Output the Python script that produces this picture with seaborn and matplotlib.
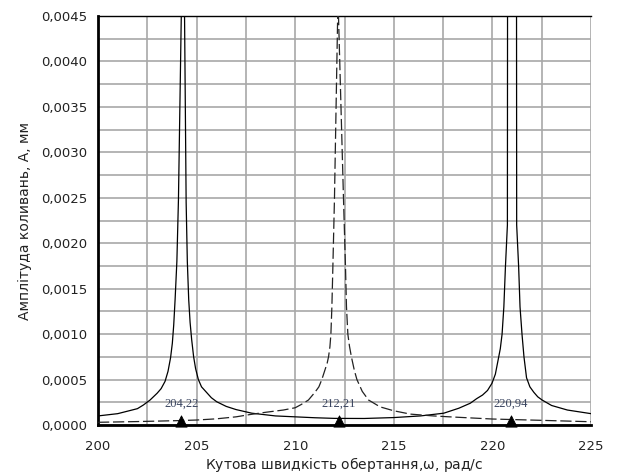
import numpy as np
import pandas as pd
import seaborn as sns
import matplotlib
matplotlib.use("Agg")
import matplotlib.pyplot as plt
from matplotlib.ticker import MultipleLocator, FuncFormatter

# Solid curve (two resonances)
omega_solid = [200.0, 201.0, 202.0, 202.3, 202.64, 203.0, 203.2, 203.4, 203.55, 203.68,
               203.77, 203.84, 203.91, 204.0, 204.08, 204.33, 204.47, 204.53, 204.6,
               204.67, 204.75, 204.85, 204.95, 205.09, 205.25, 205.5, 205.75, 206.02,
               206.5, 207.0, 207.8, 209.0, 210.0, 211.0, 212.0, 213.5, 215.0, 216.35,
               217.53, 218.3, 218.88, 219.2, 219.5, 219.75, 219.98, 220.15, 220.32,
               220.4, 220.49, 220.58, 220.66, 220.76, 220.99, 221.23, 221.33, 221.4,
               221.5, 221.6, 221.73, 221.9, 222.1, 222.3, 222.52, 223.0, 223.8, 225.0]
amp_solid = [0.000100, 0.000125, 0.000180, 0.000220, 0.000275, 0.000350, 0.000400,
             0.000480, 0.000590, 0.000740, 0.000900, 0.001100, 0.001380, 0.001800,
             0.002480, 0.006000, 0.002450, 0.001800, 0.001380, 0.001130, 0.000940,
             0.000750, 0.000620, 0.000500, 0.000420, 0.000360, 0.000300, 0.000256,
             0.000205, 0.000170, 0.000130, 0.000100, 0.000090, 0.000080, 0.000073,
             0.000072, 0.000082, 0.000100, 0.000130, 0.000185, 0.000240, 0.000290,
             0.000330, 0.000380, 0.000460, 0.000560, 0.000750, 0.000840, 0.001000,
             0.001300, 0.001740, 0.002200, 0.080000, 0.002200, 0.001740, 0.001300,
             0.001000, 0.000750, 0.000520, 0.000420, 0.000360, 0.000310, 0.000275,
             0.000215, 0.000165, 0.000125]

# Dashed curve (middle resonance)
omega_dashed = [200.0, 202.0, 204.0, 205.0, 206.0, 207.0, 207.7, 208.5, 209.4,
                210.0, 210.3, 210.67, 211.0, 211.2, 211.35, 211.5, 211.62, 211.69,
                211.76, 211.81, 211.86, 211.91, 211.99, 212.17, 212.45, 212.55,
                212.6, 212.67, 212.75, 212.85, 213.0, 213.13, 213.4, 213.72, 214.3,
                214.99, 215.84, 217.0, 218.0, 220.0, 222.4, 225.0]
amp_dashed = [0.000030, 0.000038, 0.000048, 0.000055, 0.000068, 0.000090, 0.000115,
              0.000140, 0.000165, 0.000190, 0.000225, 0.000275, 0.000360, 0.000420,
              0.000500, 0.000600, 0.000680, 0.000750, 0.000860, 0.001000, 0.001300,
              0.001740, 0.002480, 0.004700, 0.002480, 0.001740, 0.001300, 0.001000,
              0.000870, 0.000750, 0.000600, 0.000500, 0.000370, 0.000275, 0.000200,
              0.000157, 0.000120, 0.000100, 0.000088, 0.000066, 0.000052, 0.000036]

# resonance markers
res_omega = [204.22, 212.21, 220.94]
res_labels = ["204,22", "212,21", "220,94"]

sns.set_style("white")
plt.rcParams['font.family'] = ['DejaVu Sans']

fig = plt.figure(figsize=(6.19, 4.76), dpi=100)
ax = fig.add_axes([0.1583, 0.1071, 0.7965, 0.8593])

df_s = pd.DataFrame({"w": omega_solid, "a": amp_solid})
df_d = pd.DataFrame({"w": omega_dashed, "a": amp_dashed})
sns.lineplot(data=df_s, x="w", y="a", ax=ax, color="black", linewidth=0.9,
             estimator=None, sort=False, zorder=3)
sns.lineplot(data=df_d, x="w", y="a", ax=ax, color="#222222", linewidth=0.9,
             estimator=None, sort=False, zorder=3)
ax.lines[-1].set_dashes((9, 3))

df_m = pd.DataFrame({"w": res_omega, "a": [0.00004] * 3})
sns.scatterplot(data=df_m, x="w", y="a", ax=ax, marker="^", color="black",
                s=65, edgecolor="black", zorder=5, clip_on=False)
for w, lab in zip(res_omega, res_labels):
    ax.text(w, 0.00023, lab, ha="center", va="center", fontsize=9,
            family="Liberation Serif", color="#3a4560")

ax.set_xlim(200, 225)
ax.set_ylim(0, 0.0045)
ax.xaxis.set_major_locator(MultipleLocator(5))
ax.xaxis.set_minor_locator(MultipleLocator(2.5))
ax.yaxis.set_major_locator(MultipleLocator(0.0005))
ax.yaxis.set_minor_locator(MultipleLocator(0.00025))
ax.yaxis.set_major_formatter(FuncFormatter(lambda v, p: "{:.4f}".format(v).replace(".", ",")))
ax.xaxis.set_major_formatter(FuncFormatter(lambda v, p: "{:.0f}".format(v)))

ax.grid(True, which="both", color="#a8a8a8", linewidth=1.2)
ax.set_axisbelow(True)
ax.tick_params(which="major", direction="inout", length=9, width=1.5,
               labelsize=9.5, colors="black", labelcolor="#222222")
ax.tick_params(which="minor", direction="inout", length=7, width=1.5, colors="black")
ax.tick_params(axis="x", pad=6)

for side in ["left", "bottom"]:
    ax.spines[side].set_linewidth(2)
    ax.spines[side].set_color("black")
ax.spines["top"].set_linewidth(1)
ax.spines["top"].set_color("black")
ax.spines["right"].set_visible(False)

ax.set_xlabel("Кутова швидкість обертання,$\\mathregular{\\omega}$, рад/с", fontsize=10,
              color="#222222", labelpad=2)
ax.set_ylabel("Амплітуда коливань, А, мм", fontsize=10, color="#222222", labelpad=6)

fig.savefig("out.png", dpi=100)
